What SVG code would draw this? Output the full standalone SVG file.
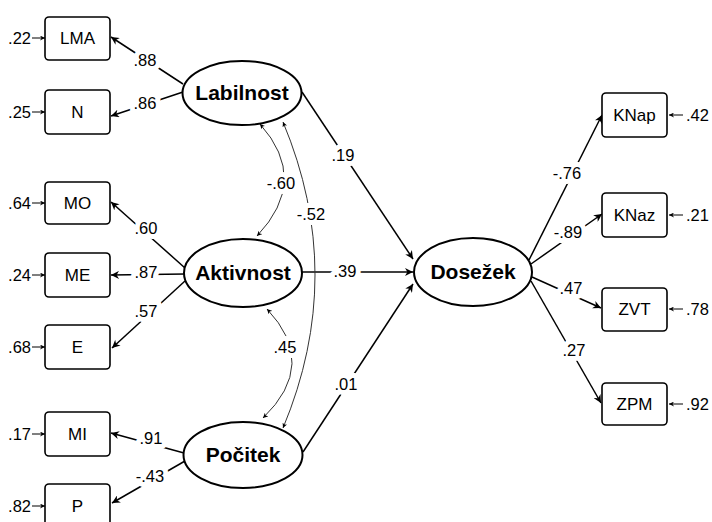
<svg xmlns="http://www.w3.org/2000/svg" width="712" height="522" viewBox="0 0 712 522">
<style>
.box{fill:#fff;stroke:#000;stroke-width:1.6}
.lat{fill:#fff;stroke:#000;stroke-width:2}
.lt{font-family:"Liberation Sans",Arial,sans-serif;font-weight:bold;font-size:21px;text-anchor:middle}
.ot{font-family:"Liberation Sans",Arial,sans-serif;font-size:17px;text-anchor:middle}
.num{font-family:"Liberation Sans",Arial,sans-serif;font-size:16.5px;text-anchor:middle;paint-order:stroke;stroke:#fff;stroke-width:10px;stroke-linejoin:round;fill:#000}
.err{font-family:"Liberation Sans",Arial,sans-serif;font-size:16.5px}
.p{fill:none;stroke:#000;stroke-width:1.5;marker-end:url(#ah)}
.e{fill:none;stroke:#000;stroke-width:1;marker-end:url(#as)}
.c{fill:none;stroke:#333;stroke-width:1;marker-start:url(#as);marker-end:url(#as)}
</style>
<defs>
<marker id="ah" viewBox="0 0 10 10" refX="10" refY="5" markerWidth="10" markerHeight="8" markerUnits="userSpaceOnUse" orient="auto-start-reverse"><path d="M0,0 L10,5 L0,10 L3,5 z" fill="#000"/></marker>
<marker id="as" viewBox="0 0 10 10" refX="10" refY="5" markerWidth="6" markerHeight="5" markerUnits="userSpaceOnUse" orient="auto-start-reverse"><path d="M0,0 L10,5 L0,10 L3,5 z" fill="#000"/></marker>
</defs>
<rect width="712" height="522" fill="#fff"/>
<g id="connectors">
<path class="p" d="M183,84 L111,37"/>
<path class="p" d="M183,92 L111,116"/>
<path class="p" d="M185,268 L111,202"/>
<path class="p" d="M185,274 L111,275"/>
<path class="p" d="M185,281 L112,348"/>
<path class="p" d="M184,453 L111,433"/>
<path class="p" d="M185,461 L112,503"/>
<path class="p" d="M302,92 L413,259"/>
<path class="p" d="M302,272 L413,272"/>
<path class="p" d="M303,452 L413,284"/>
<path class="p" d="M529,260 L602,115"/>
<path class="p" d="M531,264 L602,214"/>
<path class="p" d="M532,277 L601,308"/>
<path class="p" d="M531,281 L601,403"/>
<path class="c" d="M260,124 Q310,180 257,236"/>
<path class="c" d="M283,122 Q347,275 283,428"/>
<path class="c" d="M267,309 Q319,364 263,418"/>
<path class="e" d="M32,38 L45,38"/>
<path class="e" d="M32,112 L45,112"/>
<path class="e" d="M32,203 L45,203"/>
<path class="e" d="M32,275 L45,275"/>
<path class="e" d="M32,347 L45,347"/>
<path class="e" d="M32,434 L45,434"/>
<path class="e" d="M32,506 L45,506"/>
<path class="e" d="M683,115 L669,115"/>
<path class="e" d="M683,215 L669,215"/>
<path class="e" d="M683,309 L669,309"/>
<path class="e" d="M683,404 L669,404"/>
<text class="num" x="145" y="66">.88</text>
<text class="num" x="145" y="109">.86</text>
<text class="num" x="146" y="234">.60</text>
<text class="num" x="146" y="278">.87</text>
<text class="num" x="146" y="317">.57</text>
<text class="num" x="151" y="444">.91</text>
<text class="num" x="150" y="482">-.43</text>
<text class="num" x="281" y="189">-.60</text>
<text class="num" x="311" y="220">-.52</text>
<text class="num" x="285" y="353">.45</text>
<text class="num" x="343" y="161">.19</text>
<text class="num" x="345" y="277">.39</text>
<text class="num" x="346" y="390">.01</text>
<text class="num" x="567" y="179">-.76</text>
<text class="num" x="568" y="238">-.89</text>
<text class="num" x="571" y="294">.47</text>
<text class="num" x="574" y="356">.27</text>
</g>
<g id="err">
<text class="err" x="31" y="44" text-anchor="end">.22</text>
<text class="err" x="31" y="118" text-anchor="end">.25</text>
<text class="err" x="31" y="209" text-anchor="end">.64</text>
<text class="err" x="31" y="281" text-anchor="end">.24</text>
<text class="err" x="31" y="353" text-anchor="end">.68</text>
<text class="err" x="31" y="440" text-anchor="end">.17</text>
<text class="err" x="31" y="512" text-anchor="end">.82</text>
<text class="err" x="686" y="121">.42</text>
<text class="err" x="686" y="221">.21</text>
<text class="err" x="686" y="315">.78</text>
<text class="err" x="686" y="410">.92</text>
</g>
<g id="LMA"><rect class="box" x="45" y="17" width="65" height="43" rx="4"/><text class="ot" x="77.5" y="44">LMA</text></g>
<g id="N"><rect class="box" x="45" y="90" width="65" height="44" rx="4"/><text class="ot" x="77.5" y="118">N</text></g>
<g id="MO"><rect class="box" x="45" y="182" width="65" height="42" rx="4"/><text class="ot" x="77.5" y="209">MO</text></g>
<g id="ME"><rect class="box" x="45" y="253" width="65" height="44" rx="4"/><text class="ot" x="77.5" y="281">ME</text></g>
<g id="E"><rect class="box" x="45" y="325" width="65" height="44" rx="4"/><text class="ot" x="77.5" y="353">E</text></g>
<g id="MI"><rect class="box" x="45" y="412" width="65" height="44" rx="4"/><text class="ot" x="77.5" y="440">MI</text></g>
<g id="P"><rect class="box" x="45" y="484" width="65" height="44" rx="4"/><text class="ot" x="77.5" y="512">P</text></g>
<g id="KNap"><rect class="box" x="602" y="93" width="65" height="44" rx="4"/><text class="ot" x="634.5" y="121">KNap</text></g>
<g id="KNaz"><rect class="box" x="602" y="193" width="65" height="44" rx="4"/><text class="ot" x="634.5" y="221">KNaz</text></g>
<g id="ZVT"><rect class="box" x="602" y="288" width="65" height="43" rx="4"/><text class="ot" x="634.5" y="315">ZVT</text></g>
<g id="ZPM"><rect class="box" x="602" y="383" width="65" height="42" rx="4"/><text class="ot" x="634.5" y="410">ZPM</text></g>
<g id="Labilnost"><ellipse class="lat" cx="242" cy="93" rx="59.5" ry="32"/><text class="lt" x="242" y="100">Labilnost</text></g>
<g id="Aktivnost"><ellipse class="lat" cx="243" cy="273" rx="59" ry="34"/><text class="lt" x="243" y="280">Aktivnost</text></g>
<g id="Pocitek"><ellipse class="lat" cx="243" cy="455" rx="59.5" ry="33"/><text class="lt" x="243" y="462">Počitek</text></g>
<g id="Dosezek"><ellipse class="lat" cx="473" cy="272" rx="59" ry="34"/><text class="lt" x="473" y="279">Dosežek</text></g>
</svg>
